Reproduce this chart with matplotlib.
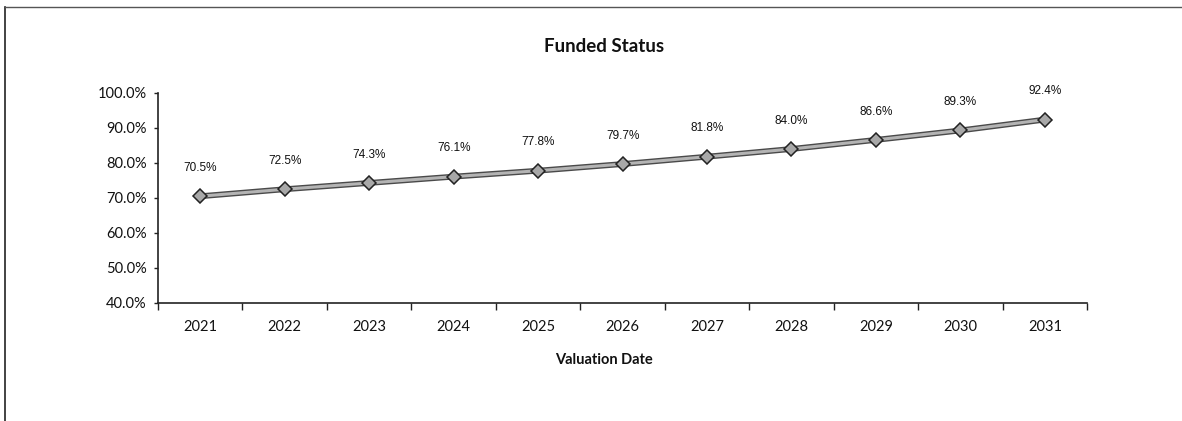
#!/usr/bin/env python3
"""Funded Status line chart by valuation year."""
import matplotlib
matplotlib.use("Agg")
import matplotlib.pyplot as plt
import numpy as np
from matplotlib.lines import Line2D
from matplotlib.ticker import FuncFormatter

years = ["2021", "2022", "2023", "2024", "2025", "2026",
         "2027", "2028", "2029", "2030", "2031"]
funded_pct = [70.5, 72.5, 74.3, 76.1, 77.8, 79.7, 81.8, 84.0, 86.6, 89.3, 92.4]
y_ticks = [40, 50, 60, 70, 80, 90, 100]

FONT = "Liberation Sans"
AXIS_FONT = "Lato"

fig = plt.figure(figsize=(11.82, 4.21), dpi=100)
ax = fig.add_axes([0.1337, 0.2803, 0.7860, 0.4988])

x = np.arange(len(years))
# dark outline under a lighter gray stroke
ax.plot(x, funded_pct, color="#4a4a4a", linewidth=4.2, solid_capstyle="butt", zorder=2)
ax.plot(x, funded_pct, color="#b4b4b4", linewidth=2.2, solid_capstyle="butt", zorder=3)
ax.plot(x, funded_pct, linestyle="none", marker="D", markersize=7.5,
        markerfacecolor="#a8a8a8", markeredgecolor="#222222",
        markeredgewidth=1.1, zorder=4)

for xi, v in zip(x, funded_pct):
    ax.annotate(f"{v:.1f}%", (xi, v), xytext=(0, 16), textcoords="offset points",
                ha="center", va="bottom", fontsize=8.5, family=FONT, color="#111111")

ax.set_xlim(-0.5, len(years) - 0.5)
ax.set_ylim(40, 100)
ax.set_yticks(y_ticks)
ax.yaxis.set_major_formatter(FuncFormatter(lambda v, _: f"{v:.1f}%"))
ax.set_xticks(np.arange(-0.5, len(years), 1.0))
ax.set_xticklabels([])
ax.set_xticks(x, minor=True)
ax.set_xticklabels(years, minor=True)
ax.tick_params(axis="x", which="major", direction="out", length=5, width=1, color="#222222")
ax.tick_params(axis="x", which="minor", length=0, pad=12, labelsize=10.5)
ax.tick_params(axis="y", direction="out", length=3, width=1, color="#222222",
               labelsize=10.5, pad=5)
for lbl in ax.get_xticklabels(minor=True) + ax.get_yticklabels():
    lbl.set_family(AXIS_FONT)
    lbl.set_color("#111111")

for side in ("top", "right"):
    ax.spines[side].set_visible(False)
for side in ("left", "bottom"):
    ax.spines[side].set_color("#222222")
    ax.spines[side].set_linewidth(1.2)

fig.text(604 / 1182, 1 - 46 / 421, "Funded Status", ha="center", va="center",
         fontsize=13.5, fontweight="bold", family=AXIS_FONT, color="#111111")
fig.text(604 / 1182, 1 - 360 / 421, "Valuation Date", ha="center", va="center",
         fontsize=10.5, fontweight="bold", family=AXIS_FONT, color="#111111")

# outer frame (left and top edges of the scanned chart box)
fig.add_artist(Line2D([5 / 1182, 5 / 1182], [0, 1 - 7 / 421],
                      transform=fig.transFigure, color="#222222", linewidth=1.2))
fig.add_artist(Line2D([5 / 1182, 1], [1 - 7 / 421, 1 - 7 / 421],
                      transform=fig.transFigure, color="#555555", linewidth=1.0))

fig.savefig("out.png", dpi=100)
